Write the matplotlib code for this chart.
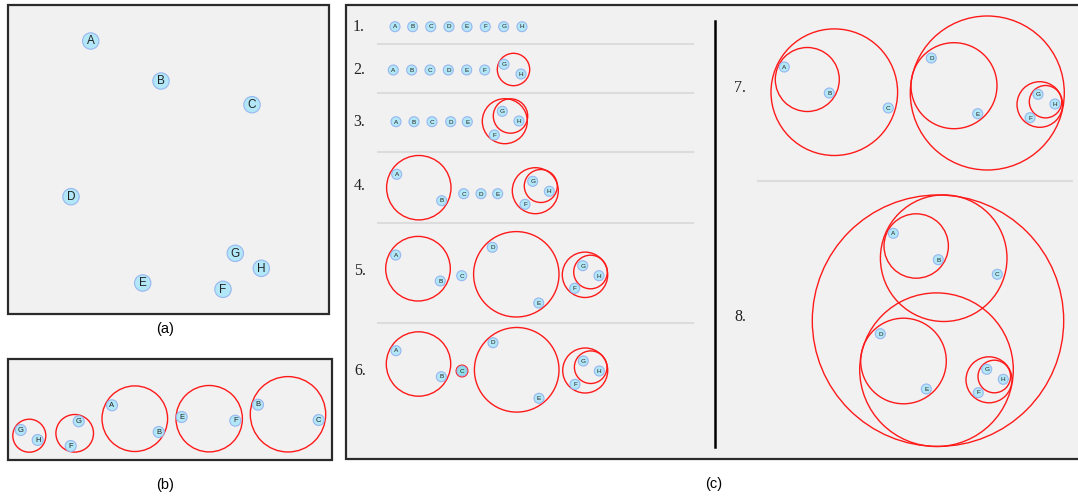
import matplotlib.pyplot as plt
from matplotlib.patches import Circle, Rectangle

# all coordinates are in image pixels (x right, y down)

# (a) original layout
a_labels = ["A", "B", "C", "D", "E", "F", "G", "H"]
a_x = [90.7, 161, 252, 71, 142.7, 223, 235.3, 261.3]
a_y = [41, 81, 104.7, 196.7, 283, 289.3, 253.3, 268.3]

# (b) pairs found first
b_nodes = [("G", 20.7, 430), ("H", 37.7, 440),
           ("G", 78.7, 421.3), ("F", 70.7, 446),
           ("A", 112, 405.3), ("B", 158.7, 432),
           ("E", 181.7, 417), ("F", 235.3, 420.7),
           ("B", 258, 404.7), ("C", 318.7, 420)]
b_circles = [(29.3, 435.7, 16.5), (74.7, 433.3, 18.8), (134.8, 418.7, 32.8),
             (209.2, 418.7, 33.2), (288, 414.3, 37.7)]

# (c) merge steps
row_labels = ["1.", "2.", "3.", "4.", "5.", "6.", "7.", "8."]
row_label_x = [359, 359, 359, 360, 360, 360, 740, 740]
row_label_y = [26.7, 70, 121.7, 186, 270.7, 371, 88.3, 316.7]

row1_nodes = [("A", 395, 26.7), ("B", 412.7, 26.7), ("C", 430.7, 26.7), ("D", 449, 26.7),
              ("E", 467, 26.7), ("F", 485.3, 26.7), ("G", 503.7, 26.7), ("H", 522, 26.7)]
row1_circles = []

row2_nodes = [("A", 393.3, 70), ("B", 411.7, 70), ("C", 430, 70), ("D", 448.3, 70),
              ("E", 466.7, 70), ("F", 484.7, 70), ("G", 504, 64.3), ("H", 521, 74)]
row2_circles = [(513.5, 69.5, 16.2)]

row3_nodes = [("A", 396, 121.7), ("B", 414, 121.7), ("C", 432, 121.7), ("D", 450.7, 121.7),
              ("E", 467.3, 121.7), ("G", 502.3, 111.3), ("H", 519, 121), ("F", 494.3, 135)]
row3_circles = [(504.8, 121.2, 22.5), (510.5, 116, 17.2)]

row4_nodes = [("A", 396.7, 174.3), ("B", 441.7, 200.7), ("C", 463.7, 193.7), ("D", 481, 193.7),
              ("E", 497.7, 193.7), ("G", 532.7, 181.3), ("H", 549.3, 191.3), ("F", 525, 204.3)]
row4_circles = [(418.8, 187.7, 32.2), (535.3, 190.7, 23), (540.8, 186, 16.5)]

row5_nodes = [("A", 395.7, 255), ("B", 440.3, 281), ("C", 461.7, 275.7), ("D", 492.3, 247.3),
              ("E", 538.7, 303), ("G", 582.7, 265.7), ("H", 599, 275.7), ("F", 574.7, 288.3)]
row5_circles = [(418, 268.7, 32.3), (516.3, 274.3, 42.7), (585, 274.8, 22.7), (590.5, 272, 16.8)]

row6_nodes = [("A", 396, 350.7), ("B", 441.3, 376.7), ("C", 462, 371), ("D", 493, 342.7),
              ("E", 539, 398.3), ("G", 583.3, 361), ("H", 599.3, 371), ("F", 575, 384.3)]
row6_circles = [(418.5, 364, 32.2), (462, 371, 5.8), (516.7, 369.8, 42.3),
                (585.2, 370.5, 22.5), (590.7, 367.2, 16.3)]

row7_nodes = [("A", 784.3, 67), ("B", 829.3, 93), ("C", 888.3, 108), ("D", 931.3, 58),
              ("E", 977.7, 113.7), ("G", 1038, 94.3), ("H", 1055, 104), ("F", 1030, 117.7)]
row7_circles = [(834.3, 92.2, 63.3), (807.3, 79.5, 32), (987.3, 93, 77), (954, 85.7, 43),
                (1039.8, 104.5, 22.8), (1045.5, 101.7, 16.2)]

row8_nodes = [("A", 893.3, 233.3), ("B", 938.3, 259.7), ("C", 997.3, 274.3), ("D", 880.3, 333.7),
              ("E", 926.3, 389), ("G", 986.7, 369.3), ("H", 1003.3, 379.3), ("F", 978.3, 392.7)]
row8_circles = [(938, 320.7, 125.7), (943.7, 258.2, 63.3), (916.2, 246, 32.2),
                (936.5, 369.7, 76.8), (903.5, 361, 42.8), (989, 379.8, 23), (994.3, 376.5, 16.3)]

rows = [(row1_nodes, row1_circles), (row2_nodes, row2_circles), (row3_nodes, row3_circles),
        (row4_nodes, row4_circles), (row5_nodes, row5_circles), (row6_nodes, row6_circles),
        (row7_nodes, row7_circles), (row8_nodes, row8_circles)]

left_sep_y = [44.3, 92.7, 151.7, 223.3, 323.3]
right_sep_y = [181]

NODE_FC = "#b2e7f7"
NODE_EC = "#98b6f0"
RED = "#ff1a1a"
SANS = "Liberation Sans"
SERIF = "Liberation Serif"


def draw_node(ax, label, x, y, r, fs, fc=NODE_FC):
    ax.add_patch(Circle((x, y), r, facecolor=fc, edgecolor=NODE_EC, lw=0.8, zorder=3))
    ax.text(x, y + 0.3, label, ha="center", va="center", fontsize=fs,
            family=SANS, color="#222222", zorder=4)


def draw_ring(ax, cx, cy, r):
    ax.add_patch(Circle((cx, cy), r, fill=False, edgecolor=RED, lw=1.0, zorder=2))


fig = plt.figure(figsize=(10.78, 4.97), dpi=100)
ax = fig.add_axes([0, 0, 1, 1])
ax.set_xlim(0, 1078)
ax.set_ylim(497, 0)
ax.set_aspect("equal")
ax.axis("off")

# panel frames
for x0, y0, x1, y1 in [(7.5, 5, 329, 314), (7.5, 358.5, 331.5, 460), (345.5, 5, 1082, 459)]:
    ax.add_patch(Rectangle((x0, y0), x1 - x0, y1 - y0, facecolor="#f1f1f1",
                           edgecolor="#2b2b2b", lw=1.6, zorder=0))

# (a)
for lab, x, y in zip(a_labels, a_x, a_y):
    draw_node(ax, lab, x, y, 8.2, 8.5)
ax.text(165, 329, "(a)", ha="center", va="center", fontsize=10.5, family=SANS)

# (b)
for cx, cy, r in b_circles:
    draw_ring(ax, cx, cy, r)
for lab, x, y in b_nodes:
    draw_node(ax, lab, x, y, 5.5, 5.5)
ax.text(165, 485, "(b)", ha="center", va="center", fontsize=10.5, family=SANS)

# (c)
for y in left_sep_y:
    ax.plot([378, 693], [y, y], color="#dcdcdc", lw=1.5, zorder=1)
for y in right_sep_y:
    ax.plot([758, 1072], [y, y], color="#dcdcdc", lw=1.5, zorder=1)
ax.plot([715, 715], [21, 447], color="black", lw=1.8, zorder=1)

for lab, x, y in zip(row_labels, row_label_x, row_label_y):
    ax.text(x, y, lab, ha="center", va="center", fontsize=11.5, family=SERIF, color="#222222")

for i, (nodes, circles) in enumerate(rows):
    for cx, cy, r in circles:
        draw_ring(ax, cx, cy, r)
    for lab, x, y in nodes:
        fc = "#8fe0e6" if (i == 5 and lab == "C") else NODE_FC
        draw_node(ax, lab, x, y, 5.0, 4.6, fc)

ax.text(714, 484, "(c)", ha="center", va="center", fontsize=10.5, family=SANS)

fig.savefig("out.png", dpi=100)
